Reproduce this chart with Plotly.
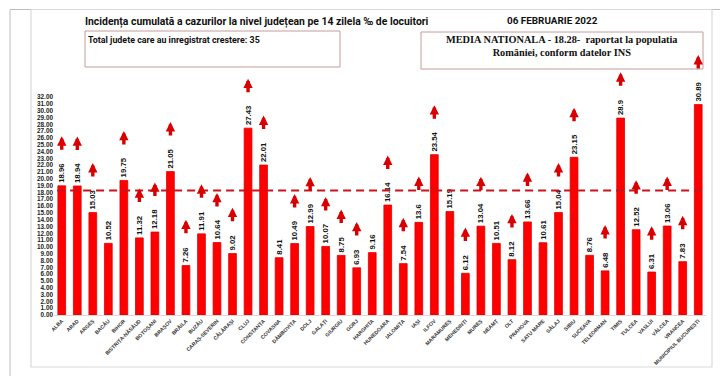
import plotly.graph_objects as go

counties = ["ALBA", "ARAD", "ARGEȘ", "BACĂU", "BIHOR", "BISTRIȚA-NĂSĂUD", "BOTOȘANI", "BRAȘOV",
            "BRĂILA", "BUZĂU", "CARAȘ-SEVERIN", "CĂLĂRAȘI", "CLUJ", "CONSTANȚA", "COVASNA",
            "DÂMBOVIȚA", "DOLJ", "GALAȚI", "GIURGIU", "GORJ", "HARGHITA", "HUNEDOARA", "IALOMIȚA",
            "IAȘI", "ILFOV", "MARAMUREȘ", "MEHEDINȚI", "MUREȘ", "NEAMȚ", "OLT", "PRAHOVA",
            "SATU MARE", "SĂLAJ", "SIBIU", "SUCEAVA", "TELEORMAN", "TIMIȘ", "TULCEA", "VASLUI",
            "VÂLCEA", "VRANCEA", "MUNICIPIUL BUCUREȘTI"]
incidence = [18.96, 18.94, 15.03, 10.52, 19.75, 11.32, 12.18, 21.05,
             7.26, 11.91, 10.64, 9.02, 27.43, 22.01, 8.41,
             10.49, 12.99, 10.07, 8.75, 6.93, 9.16, 16.14, 7.54,
             13.6, 23.54, 15.19, 6.12, 13.04, 10.51, 8.12, 13.66,
             10.61, 15.04, 23.15, 8.76, 6.48, 28.9, 12.52, 6.31,
             13.06, 7.83, 30.89]
increase = [1, 1, 1, 0, 1, 1, 1, 1,
            1, 1, 1, 1, 1, 1, 0,
            1, 1, 1, 1, 1, 0, 1, 1,
            1, 1, 0, 1, 1, 0, 1, 1,
            0, 1, 1, 0, 1, 1, 1, 1,
            1, 1, 1]
national_mean = 18.28
y_ticks = list(range(0, 33))
title_text = "Incidența cumulată a cazurilor la nivel județean pe 14 zilela ‰ de locuitori"
date_text = "06 FEBRUARIE 2022"
box1_text = "Total judete care au inregistrat crestere: 35"
box2_text = "MEDIA NATIONALA - 18.28-  raportat la populatia<br>Romȃniei, conform datelor INS"

W, H = 728, 376
L, R, T, B = 46, 30, 89, 69
PW, PH = W - L - R, H - T - B


def px(x):
    return (x - L) / PW


def py(y):
    return (H - B - y) / PH


labels = [str(v) for v in incidence]

fig = go.Figure()
fig.add_trace(go.Bar(
    x=counties, y=incidence, text=labels, textposition="outside", textangle=-90,
    textfont=dict(family="Liberation Sans", size=7.8, color="#111111", weight=700),
    marker=dict(color="#ff0000", line=dict(color="#e00000", width=0.8)),
    cliponaxis=False, constraintext="none", hoverinfo="x+y",
))

annotations = []
for c, v, lab, inc in zip(counties, incidence, labels, increase):
    if inc:
        shift = 3 + len(lab) * 3.7 + 12 + 16
        annotations.append(dict(
            x=c, y=v, xref="x", yref="y", text="", showarrow=True,
            ax=0, ay=15, arrowhead=2, arrowsize=0.55, arrowwidth=3.4,
            arrowcolor="#d80000", yshift=shift, standoff=0, startstandoff=0,
        ))

annotations += [
    dict(x=px(75), y=py(14), xref="paper", yref="paper", xanchor="left", yanchor="middle",
         text=title_text, showarrow=False,
         font=dict(family="Roboto", size=10.4, color="#111111", weight=700)),
    dict(x=px(497), y=py(12), xref="paper", yref="paper", xanchor="left", yanchor="middle",
         text=date_text, showarrow=False,
         font=dict(family="Roboto", size=9.9, color="#111111", weight=700)),
    dict(x=px(78), y=py(32), xref="paper", yref="paper", xanchor="left", yanchor="middle",
         text=box1_text, showarrow=False,
         font=dict(family="Roboto", size=8.9, color="#111111", weight=700)),
    dict(x=px(554), y=py(38), xref="paper", yref="paper", xanchor="center", yanchor="middle",
         text="<b>" + box2_text + "</b>", showarrow=False, align="center",
         font=dict(family="Liberation Serif", size=10.3, color="#111111")),
]

shapes = [
    # outer border
    dict(type="rect", xref="paper", yref="paper", x0=px(2), x1=px(726), y0=py(376), y1=py(1.5),
         line=dict(color="#bdbdbd", width=1), layer="below"),
    # chart frame
    dict(type="rect", xref="paper", yref="paper", x0=px(23), x1=px(704), y0=py(359), y1=py(1.5),
         line=dict(color="#d9d9d9", width=1.2), layer="below"),
    # text boxes
    dict(type="rect", xref="paper", yref="paper", x0=px(77), x1=px(332), y0=py(59), y1=py(23),
         line=dict(color="#c89a9a", width=1)),
    dict(type="rect", xref="paper", yref="paper", x0=px(413), x1=px(695), y0=py(61), y1=py(24),
         line=dict(color="#c89a9a", width=1)),
    # national mean
    dict(type="line", xref="x", yref="y", x0=-0.3, x1=len(counties) - 0.5,
         y0=national_mean, y1=national_mean,
         line=dict(color="#c8141e", width=2, dash="8px,5px")),
]

fig.update_layout(
    width=W, height=H, margin=dict(l=L, r=R, t=T, b=B),
    paper_bgcolor="white", plot_bgcolor="white", showlegend=False,
    bargap=0.5, annotations=annotations, shapes=shapes,
    xaxis=dict(type="category", tickangle=-45, showgrid=False, showline=True,
               linecolor="#d9d9d9", linewidth=1, ticks="", range=[-0.5, len(counties) - 0.5],
               tickfont=dict(family="Liberation Sans", size=5.2, color="#333333", weight=700)),
    yaxis=dict(range=[0, 32], tickvals=y_ticks, ticktext=["%.2f" % t for t in y_ticks],
               showgrid=False, zeroline=False, showline=False, ticks="",
               tickfont=dict(family="Liberation Sans", size=6.4, color="#222222", weight=700)),
)

fig.write_html("out.html")
